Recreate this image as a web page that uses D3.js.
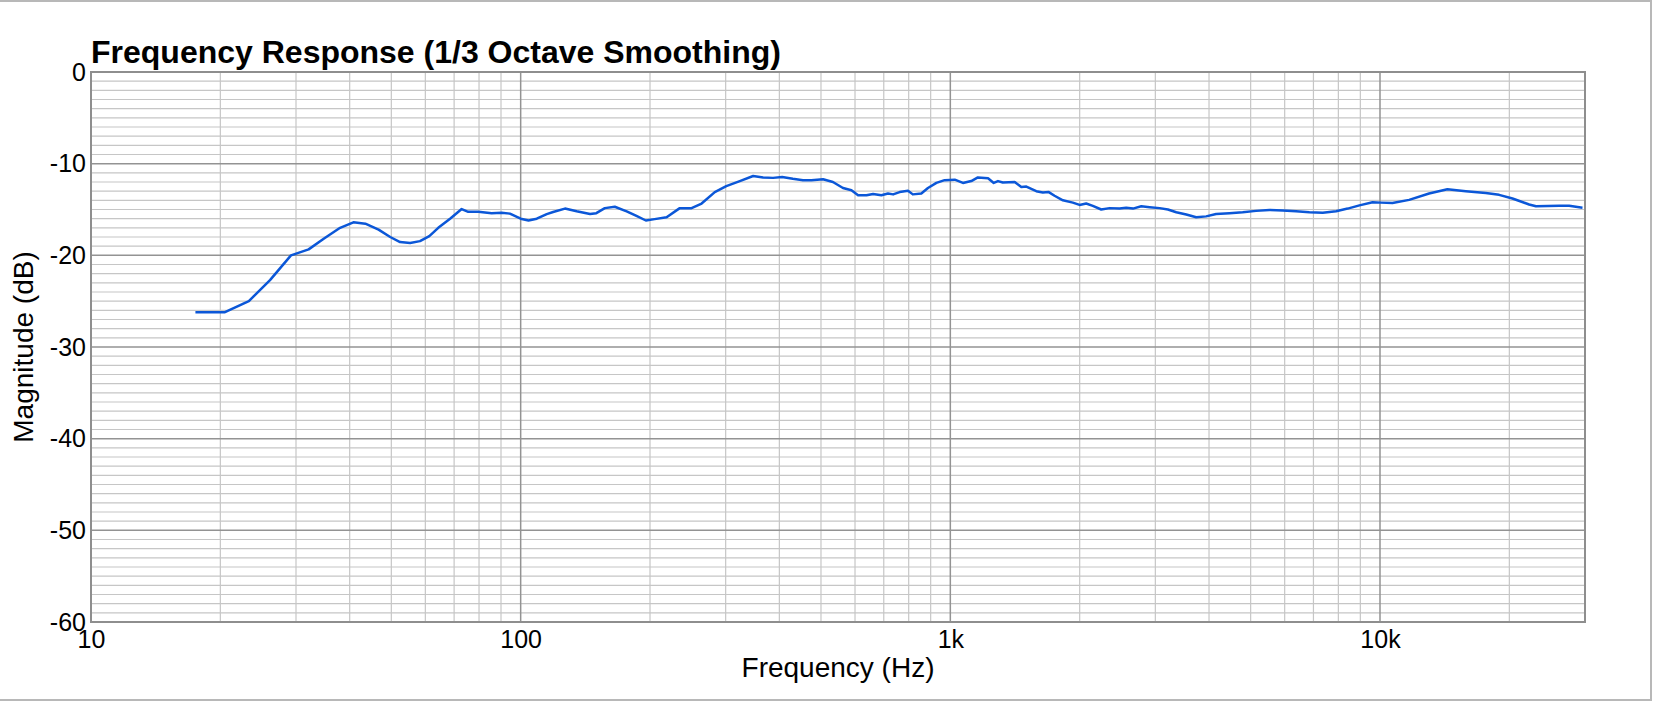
<!DOCTYPE html>
<html>
<head>
<meta charset="utf-8">
<script src="https://cdn.jsdelivr.net/npm/d3@7"></script>
<style>
  body { margin: 0; background: #ffffff; }
  text { font-family: "Liberation Sans", Arial, Helvetica, sans-serif; fill: #000; }
</style>
</head>
<body>
<div class="grafico"></div>
<script>

//size of the svg
var widthSVG = 1656;
var heightSVG = 704;
//plot area (where the grid lives)
var plotLeft = 91, plotRight = 1585, plotTop = 72, plotBottom = 622;

//frequency points (Hz)
var freqs = [17.5, 20.5, 23.3, 26.1, 29.2, 32.1, 34.8, 38.0, 40.8, 43.5, 46.7, 49.7, 52.4, 55.3, 58.3, 61.3, 64.3, 68.5, 72.9, 75.5,
	79.7, 85.6, 90.3, 94.4, 100, 104.3, 109, 115, 119, 126.8, 135, 145, 150, 157, 165.6, 176.5, 186, 195.6, 205, 218.6,
	234.6, 249.9, 263.7, 283, 301, 323.6, 347.6, 366.7, 386.6, 406, 430, 454, 475, 505.5, 533, 562.6, 588.6, 610, 638, 661,
	691, 716, 736, 762, 797, 818, 856, 887, 928, 970, 1024, 1070, 1119, 1159, 1224, 1262, 1291, 1325, 1412, 1463,
	1503, 1585, 1642, 1695, 1748, 1828, 1928, 1999, 2071, 2146, 2245, 2348, 2477, 2567, 2661, 2783, 2910, 3070, 3209, 3356,
	3541, 3735, 3939, 4155, 4464, 4791, 5147, 5528, 5938, 6377, 6850, 7358, 7903, 8410, 8955, 9610, 10047, 10690, 11690, 13010,
	14350, 15840, 17630, 18930, 20340, 22240, 23070, 26130, 27560, 29600];
//magnitude (dB) at each of those frequencies
var mags = [-26.2, -26.2, -25.0, -22.7, -20.0, -19.35, -18.2, -17.0, -16.4, -16.55, -17.2, -18.0, -18.55, -18.65, -18.45, -17.9, -17.0, -16.0, -14.95, -15.25,
	-15.25, -15.4, -15.35, -15.45, -16.0, -16.2, -16.0, -15.5, -15.27, -14.9, -15.2, -15.5, -15.4, -14.85, -14.7, -15.2, -15.7, -16.2, -16.05, -15.85,
	-14.85, -14.85, -14.35, -13.1, -12.45, -11.9, -11.35, -11.5, -11.55, -11.45, -11.65, -11.8, -11.8, -11.7, -12.0, -12.65, -12.9, -13.45, -13.45, -13.3,
	-13.45, -13.25, -13.35, -13.1, -12.95, -13.35, -13.25, -12.65, -12.1, -11.8, -11.75, -12.1, -11.9, -11.5, -11.6, -12.1, -11.9, -12.05, -12.0, -12.55,
	-12.5, -13.0, -13.15, -13.1, -13.5, -14.0, -14.25, -14.5, -14.35, -14.6, -15.0, -14.85, -14.9, -14.8, -14.9, -14.65, -14.75, -14.85, -15.0, -15.3,
	-15.55, -15.85, -15.75, -15.5, -15.4, -15.3, -15.15, -15.05, -15.1, -15.2, -15.3, -15.35, -15.2, -14.9, -14.55, -14.2, -14.25, -14.3, -13.95, -13.25,
	-12.8, -13.0, -13.2, -13.4, -13.8, -14.45, -14.65, -14.6, -14.6, -14.8];

//axis ticks
var xTicks = [10, 100, 1000, 10000];
var xTickLabels = ["10", "100", "1k", "10k"];
var yTicks = [0, -10, -20, -30, -40, -50, -60];
var yTickLabels = ["0", "-10", "-20", "-30", "-40", "-50", "-60"];

var dataset = freqs.map(function(f, i) { return { Freq: f, Mag: mags[i] }; });

//scales - log for the frequency
var xScale = d3.scaleLog()
	.domain([10, 30000])
	.range([plotLeft, plotRight]);

var yScale = d3.scaleLinear()
	.domain([-60, 0])
	.range([plotBottom, plotTop]);

var svg = d3.select(".grafico")
	.append("svg")
	.attr("width", widthSVG)
	.attr("height", heightSVG);

//window frame around the picture
svg.append("path")
	.attr("d", "M0,1 H1651 V700 H0")
	.attr("fill", "none")
	.attr("stroke", "#b8b8b8")
	.attr("stroke-width", 2);

//minor grid - vertical (2..9 in every decade)
var minorX = [];
xTicks.forEach(function(dec) {
	for (var m = 2; m <= 9; m++) {
		if (dec * m <= 30000) minorX.push(dec * m);
	}
});
//minor grid - horizontal (every dB)
var minorY = d3.range(-59, 0).filter(function(v) { return v % 10 !== 0; });

svg.append("g").selectAll("line")
	.data(minorY)
	.enter().append("line")
	.attr("x1", plotLeft).attr("x2", plotRight)
	.attr("y1", function(d) { return yScale(d); })
	.attr("y2", function(d) { return yScale(d); })
	.attr("stroke", "#c6c6c6")
	.attr("stroke-width", 1.2);

svg.append("g").selectAll("line")
	.data(minorX)
	.enter().append("line")
	.attr("y1", plotTop).attr("y2", plotBottom)
	.attr("x1", function(d) { return xScale(d); })
	.attr("x2", function(d) { return xScale(d); })
	.attr("stroke", "#c6c6c6")
	.attr("stroke-width", 1.2);

//major grid
svg.append("g").selectAll("line")
	.data(yTicks)
	.enter().append("line")
	.attr("x1", plotLeft).attr("x2", plotRight)
	.attr("y1", function(d) { return yScale(d); })
	.attr("y2", function(d) { return yScale(d); })
	.attr("stroke", "#939393")
	.attr("stroke-width", 1.5);

svg.append("g").selectAll("line")
	.data(xTicks)
	.enter().append("line")
	.attr("y1", plotTop).attr("y2", plotBottom)
	.attr("x1", function(d) { return xScale(d); })
	.attr("x2", function(d) { return xScale(d); })
	.attr("stroke", "#939393")
	.attr("stroke-width", 1.5);

//the response curve
var line = d3.line()
	.x(function(d) { return xScale(d.Freq); })
	.y(function(d) { return yScale(d.Mag); });

svg.append("path")
	.datum(dataset)
	.attr("class", "line")
	.attr("d", line)
	.attr("fill", "none")
	.attr("stroke", "#0b57d8")
	.attr("stroke-width", 2.5)
	.attr("stroke-linejoin", "round");

//plot border
svg.append("rect")
	.attr("x", plotLeft).attr("y", plotTop)
	.attr("width", plotRight - plotLeft)
	.attr("height", plotBottom - plotTop)
	.attr("fill", "none")
	.attr("stroke", "#8e8e8e")
	.attr("stroke-width", 2);

//axes - only the labels, the grid does the rest
var y_axis = d3.axisLeft(yScale).tickValues(yTicks).tickSize(0).tickPadding(5)
	.tickFormat(function(d, i) { return yTickLabels[i]; });
svg.append("g")
	.attr("class", "coord y")
	.attr("transform", "translate(" + plotLeft + ",0)")
	.call(y_axis);

var x_axis = d3.axisBottom(xScale).tickValues(xTicks).tickSize(0).tickPadding(8)
	.tickFormat(function(d, i) { return xTickLabels[i]; });
svg.append("g")
	.attr("class", "coord x")
	.attr("transform", "translate(0," + plotBottom + ")")
	.call(x_axis);

svg.selectAll(".coord .domain").remove();
svg.selectAll(".coord text")
	.attr("fill", "#000")
	.style("font-family", "'Liberation Sans', Arial, sans-serif")
	.style("font-size", "25px");

//title
svg.append("text")
	.attr("x", plotLeft)
	.attr("y", 63)
	.style("font-size", "32px")
	.style("font-weight", "bold")
	.text("Frequency Response (1/3 Octave Smoothing)");

//x label
svg.append("text")
	.attr("text-anchor", "middle")
	.attr("x", (plotLeft + plotRight) / 2)
	.attr("y", 677)
	.style("font-size", "28px")
	.text("Frequency (Hz)");

//y label
svg.append("text")
	.attr("text-anchor", "middle")
	.attr("transform", "translate(33," + ((plotTop + plotBottom) / 2) + ") rotate(-90)")
	.style("font-size", "28px")
	.text("Magnitude (dB)");

</script>
</body>
</html>
